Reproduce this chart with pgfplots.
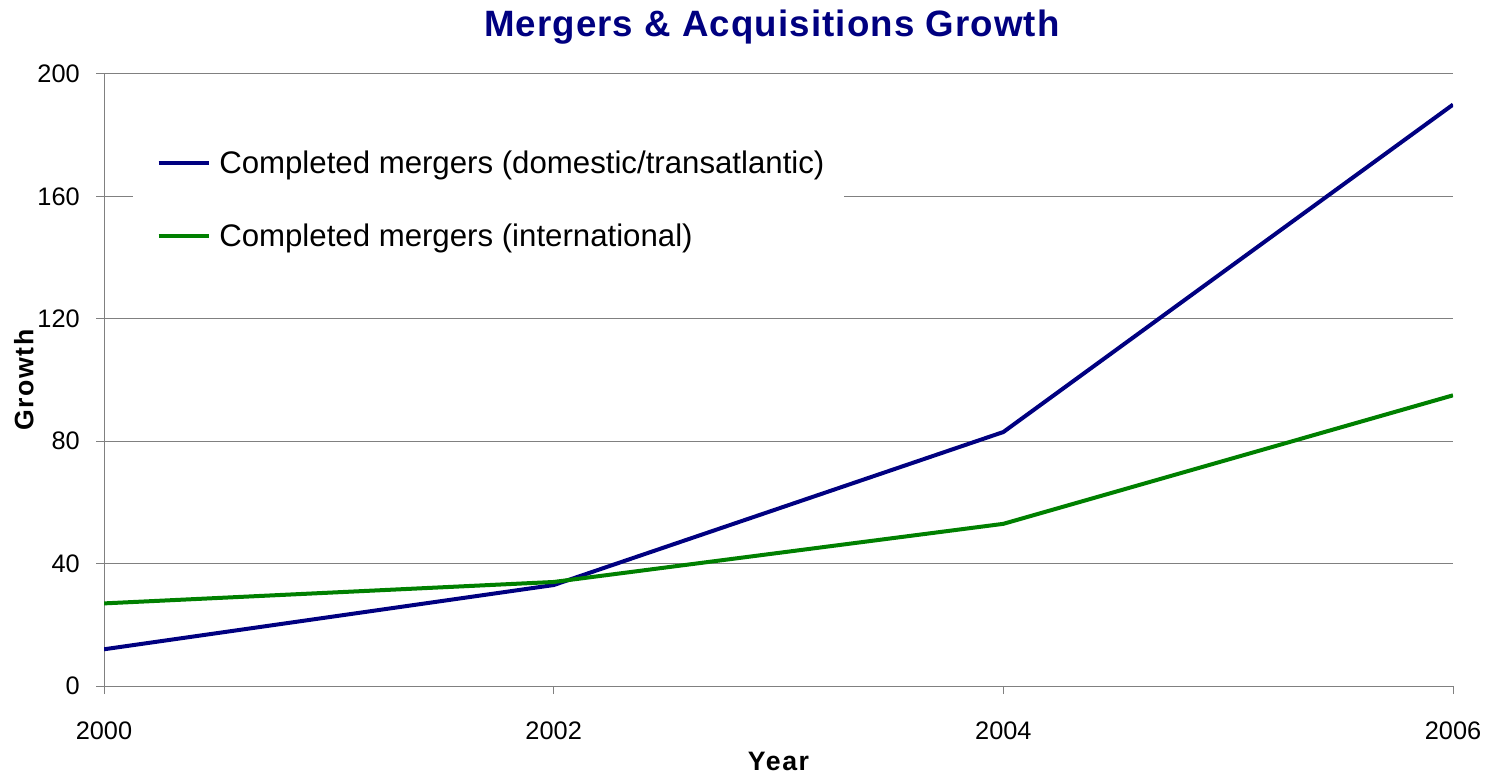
\documentclass[border=0pt]{standalone}
\usepackage{fontspec}
\setmainfont{Liberation Sans}
\newfontfamily\spaced[LetterSpace=6]{Liberation Sans}
\newfontfamily\titlefont[LetterSpace=3]{Liberation Sans}
\usepackage{pgfplots}
\pgfplotsset{compat=1.18}
\definecolor{navyline}{HTML}{000080}
\definecolor{greenline}{HTML}{008000}
\definecolor{gridgray}{HTML}{808080}

\begin{document}
\begin{tikzpicture}
\begin{axis}[
  name=ax,
  scale only axis,
  width=1011.75pt, height=459pt,
  xmin=2000, xmax=2006, ymin=0, ymax=200,
  xtick={2000,2002,2004,2006},
  ytick={0,40,...,200},
  axis lines*=left,
  axis line style={gridgray, line width=0.75pt},
  tick align=outside,
  major tick length=6pt,
  tick style={gridgray, line width=0.75pt},
  ymajorgrids,
  grid style={gridgray, line width=0.75pt},
  /pgf/number format/assume math mode=true,
  /pgf/number format/1000 sep={},
  tick label style={font=\fontsize{19}{22}\selectfont, inner sep=0pt},
  yticklabel style={anchor=east, xshift=-12pt},
  xticklabel style={anchor=north, yshift=-21pt},
  title={Mergers \& Acquisitions Growth},
  title style={at={([xshift=-5pt,yshift=21.75pt]axis description cs:0.5,1)}, anchor=base,
    font=\titlefont\fontsize{27.5}{31}\selectfont\bfseries, text=navyline},
  xlabel={Year},
  ylabel={Growth},
  every axis x label/.style={at={([yshift=-49.5pt]axis description cs:0.5,0)}, anchor=north,
    inner sep=0pt, font=\spaced\fontsize{20}{23}\selectfont\bfseries},
  every axis y label/.style={at={([xshift=-53pt]axis description cs:0,0.5)}, anchor=base,
    rotate=90, inner sep=0pt, font=\spaced\fontsize{20}{23}\selectfont\bfseries},
  legend image code/.code={\path (-8.5pt,0pt); \draw[#1] (0pt,0pt) -- (38pt,0pt);},
  legend style={at={(axis description cs:0.0215,0.9134)}, anchor=north west,
    draw=none, fill=white, font=\fontsize{23.4}{27}\selectfont,
    inner xsep=9pt, inner ysep=15pt, row sep=30.75pt,
    nodes={inner xsep=6pt, inner ysep=0pt, text height=20pt, text depth=4pt}},
  legend cell align=left,
]
\addplot[navyline, line width=3pt] coordinates {(2000,12) (2002,33) (2004,83) (2006,190)};
\addlegendentry{Completed mergers (domestic/transatlantic)}
\addplot[greenline, line width=3pt] coordinates {(2000,27) (2002,34) (2004,53) (2006,95)};
\addlegendentry{Completed mergers (international)}
\end{axis}
\pgfresetboundingbox
\path ([shift={(-78pt,-66.75pt)}]ax.south west) rectangle ([shift={(24pt,55.5pt)}]ax.north east);
\end{tikzpicture}
\end{document}
